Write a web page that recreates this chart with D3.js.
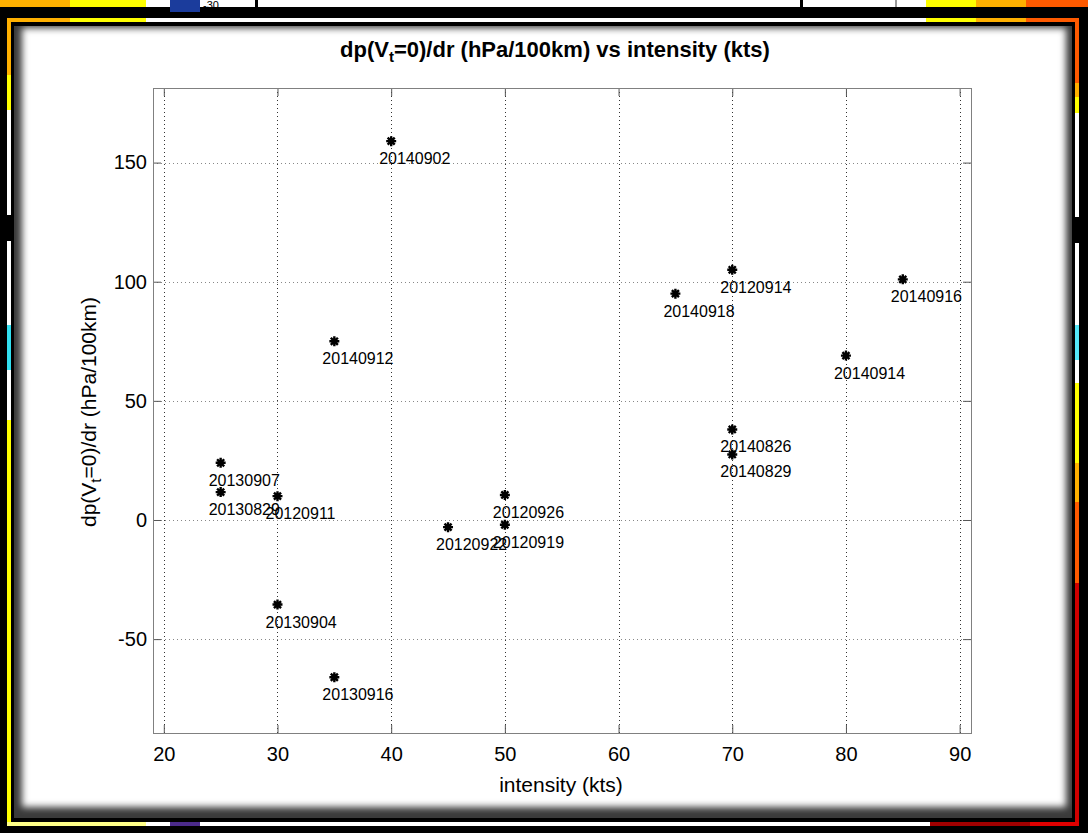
<!DOCTYPE html>
<html>
<head>
<meta charset="utf-8">
<script src="https://cdn.jsdelivr.net/npm/d3@7"></script>
<style>
  html, body { margin: 0; padding: 0; background: #000; }
  svg { display: block; }
  text { font-family: "Liberation Sans", Arial, Helvetica, sans-serif; }
</style>
</head>
<body>
<div id="chart"></div>
<script>
// storm dates, intensity (kts) and dp(Vt=0)/dr (hPa/100km)
var labels = ["20140902", "20140912", "20140918", "20120914", "20140916", "20140914",
              "20140826", "20140829", "20130907", "20130829", "20120911", "20120926",
              "20120922", "20120919", "20130904", "20130916"];
var intensity = [40, 35, 65, 70, 85, 80, 70, 70, 25, 25, 30, 50, 45, 50, 30, 35];
var dpdr = [159, 75, 95, 105, 101, 69, 38, 27.5, 24, 11.7, 10, 10.5, -3, -2, -35.5, -66];
var xTicks = [20, 30, 40, 50, 60, 70, 80, 90];
var yTicks = [-50, 0, 50, 100, 150];

var svgWidth = 1088, svgHeight = 833;
var margin = {top: 88, right: 117, bottom: 100, left: 153};
var width = svgWidth - margin.left - margin.right;
var height = svgHeight - margin.top - margin.bottom;

var svg = d3.select("#chart").append("svg")
  .attr("width", svgWidth)
  .attr("height", svgHeight);

// ---- frame around the figure (screenshot border) ----
svg.append("rect").attr("width", svgWidth).attr("height", svgHeight).attr("fill", "#000");

function strip(list) {
  list.forEach(function(s) {
    svg.append("rect").attr("x", s[0]).attr("y", s[1]).attr("width", s[2]).attr("height", s[3]).attr("fill", s[4]);
  });
}
// top strip of the picture behind
strip([
  [0, 0, 70, 7, "#ffb000"], [70, 0, 76, 7, "#ffff00"], [146, 0, 780, 7, "#fff"],
  [170, 0, 30, 12, "#1b3c9c"], [255, 0, 3, 7, "#000"], [800, 0, 3, 7, "#000"], [895, 0, 2, 7, "#999"],
  [926, 0, 50, 7, "#ffff00"], [976, 0, 50, 7, "#ffb000"], [1026, 0, 62, 7, "#ff5a00"]
]);
svg.append("text").attr("x", 203).attr("y", 9).attr("font-size", 11).attr("fill", "#000").text("-30");
// coloured line of the frame
strip([
  [7, 18, 63, 4, "#ffb000"], [70, 18, 76, 4, "#ffff00"], [146, 18, 780, 4, "#fff"],
  [926, 18, 50, 4, "#ffff00"], [976, 18, 50, 4, "#ffb000"], [1026, 18, 53, 4, "#ff5a00"],
  [7, 18, 4, 57, "#ffb000"], [7, 75, 4, 35, "#ffff00"], [7, 110, 4, 215, "#fff"],
  [7, 215, 4, 26, "#000"], [7, 325, 4, 45, "#33e0f0"], [7, 370, 4, 50, "#fff"], [7, 420, 4, 406, "#ffff00"],
  [1075, 18, 4, 65, "#ff5a00"], [1075, 83, 4, 14, "#ffb000"], [1075, 97, 4, 16, "#ffff00"],
  [1075, 113, 4, 212, "#fff"], [1075, 217, 4, 26, "#000"], [1075, 325, 4, 35, "#55e8f8"],
  [1075, 360, 4, 23, "#fff"], [1075, 383, 4, 80, "#ffff00"], [1075, 463, 4, 39, "#ffb000"],
  [1075, 502, 4, 81, "#ff5a00"], [1075, 583, 4, 243, "#d00000"],
  [7, 822, 139, 4, "#ffff88"], [146, 822, 24, 4, "#fff"], [170, 822, 30, 4, "#4b2a8a"],
  [200, 822, 730, 4, "#fff"], [930, 822, 100, 4, "#a00000"], [1030, 822, 49, 4, "#e00000"]
]);

// white panel with soft dark edges
var defs = svg.append("defs");
defs.append("filter").attr("id", "soft").attr("x", "-10%").attr("y", "-10%").attr("width", "120%").attr("height", "120%")
  .append("feGaussianBlur").attr("stdDeviation", 3.5);
defs.append("clipPath").attr("id", "panelClip")
  .append("rect").attr("x", 14).attr("y", 26).attr("width", 1058).attr("height", 792);
svg.append("rect").attr("x", 14).attr("y", 26).attr("width", 1058).attr("height", 792).attr("fill", "#3a3a3a");
svg.append("g").attr("clip-path", "url(#panelClip)")
  .append("rect").attr("x", 22).attr("y", 28).attr("width", 1044).attr("height", 779)
  .attr("fill", "#fff").attr("filter", "url(#soft)");

// ---- chart ----
var g = svg.append("g")
  .attr("transform", "translate(" + margin.left + "," + margin.top + ")");

var x = d3.scaleLinear().domain([19.05, 91]).range([0, width]);
var y = d3.scaleLinear().domain([-89.4, 181.3]).range([height, 0]);

// dotted grid
g.append("g").selectAll("line").data(xTicks).enter().append("line")
  .attr("x1", d => Math.round(x(d)) + 0.5).attr("x2", d => Math.round(x(d)) + 0.5)
  .attr("y1", 0).attr("y2", height)
  .attr("stroke", "#333").attr("stroke-dasharray", "1,3");
g.append("g").selectAll("line").data(yTicks).enter().append("line")
  .attr("y1", d => Math.round(y(d)) + 0.5).attr("y2", d => Math.round(y(d)) + 0.5)
  .attr("x1", 0).attr("x2", width)
  .attr("stroke", "#888").attr("stroke-dasharray", "1,3");

function styleAxis(sel) {
  sel.select(".domain").remove();
  sel.selectAll(".tick line").attr("stroke", "#555");
  sel.selectAll(".tick text").attr("fill", "#000").attr("font-size", 20)
    .attr("font-family", "'Liberation Sans', Arial, sans-serif");
}

var plain = function(d) { return String(d); };

g.append("g")
  .attr("transform", "translate(0," + height + ")")
  .call(d3.axisBottom(x).tickValues(xTicks).tickSizeInner(-8).tickSizeOuter(0).tickPadding(14).tickFormat(plain))
  .call(styleAxis);
g.append("g")
  .call(d3.axisTop(x).tickValues(xTicks).tickSizeInner(-8).tickSizeOuter(0).tickFormat(""))
  .call(styleAxis);
g.append("g")
  .call(d3.axisLeft(y).tickValues(yTicks).tickSizeInner(-8).tickSizeOuter(0).tickPadding(6).tickFormat(plain))
  .call(styleAxis);
g.append("g")
  .attr("transform", "translate(" + width + ",0)")
  .call(d3.axisRight(y).tickValues(yTicks).tickSizeInner(-8).tickSizeOuter(0).tickFormat(""))
  .call(styleAxis);

// box
g.append("rect").attr("x", 0.5).attr("y", 0.5).attr("width", width).attr("height", height)
  .attr("fill", "none").attr("stroke", "#808080");

// asterisk markers
var asterisk = {
  draw: function(ctx, size) {
    var r = Math.sqrt(size) / 2;
    [0, 45, 90, 135].forEach(function(a) {
      var c = Math.cos(a * Math.PI / 180) * r, s = Math.sin(a * Math.PI / 180) * r;
      ctx.moveTo(-c, -s);
      ctx.lineTo(c, s);
    });
  }
};

var pts = labels.map(function(l, i) { return {label: l, x: intensity[i], y: dpdr[i]}; });

g.append("g").selectAll("path").data(pts).enter().append("path")
  .attr("transform", d => "translate(" + x(d.x) + "," + y(d.y) + ")")
  .attr("d", d3.symbol(asterisk, 100))
  .attr("stroke", "#000").attr("stroke-width", 2.4).attr("fill", "none");

g.append("g").selectAll("text").data(pts).enter().append("text")
  .attr("x", d => x(d.x) - 12)
  .attr("y", d => y(d.y) + 23)
  .attr("font-size", 16)
  .attr("fill", "#000")
  .text(d => d.label);

// title
var title = svg.append("text")
  .attr("x", 555).attr("y", 57)
  .attr("text-anchor", "middle")
  .attr("font-size", 22).attr("font-weight", "bold").attr("fill", "#000");
title.append("tspan").text("dp(V");
title.append("tspan").attr("baseline-shift", "-35%").attr("font-size", 15).text("t");
title.append("tspan").text("=0)/dr (hPa/100km) vs intensity (kts)");

// axis labels
svg.append("text")
  .attr("x", 561).attr("y", 792)
  .attr("text-anchor", "middle").attr("font-size", 21).attr("fill", "#000")
  .text("intensity (kts)");

var ylab = svg.append("text")
  .attr("transform", "translate(96,412) rotate(-90)")
  .attr("text-anchor", "middle").attr("font-size", 21).attr("fill", "#000");
ylab.append("tspan").text("dp(V");
ylab.append("tspan").attr("baseline-shift", "-30%").attr("font-size", 15).text("t");
ylab.append("tspan").text("=0)/dr (hPa/100km)");
</script>
</body>
</html>
